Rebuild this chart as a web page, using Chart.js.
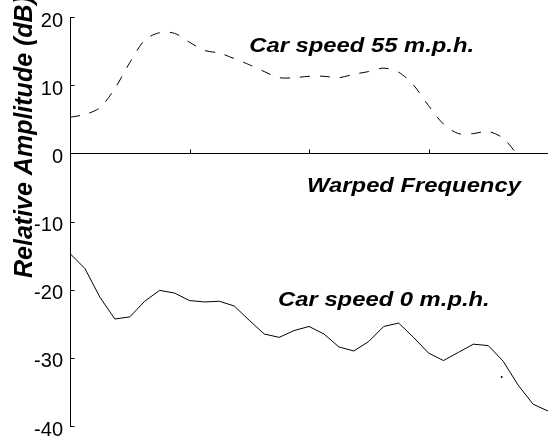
<!DOCTYPE html>
<html>
<head>
<meta charset="utf-8">
<script src="https://cdn.jsdelivr.net/npm/chart.js@4.4.1/dist/chart.umd.min.js"></script>
<style>
  html, body { margin: 0; padding: 0; background: #fff; overflow: hidden; }
  #wrap { width: 552px; height: 436px; }
</style>
</head>
<body>
<div id="wrap"><canvas id="myChart" width="552" height="436"></canvas></div>
<script>
// warped frequency bins (x)
let bins = [0, 1, 2, 3, 4, 5, 6, 7, 8, 9, 10, 11, 12, 13, 14, 15, 16,
  17, 18, 19, 20, 21, 22, 23, 24, 25, 26, 27, 28, 29, 30, 31, 32];

// relative amplitude in dB
let speed55 = [5.3, 5.7, 6.7, 9.5, 13.3, 16.6, 17.7, 17.6, 16.3, 15.1, 14.7,
  13.9, 13.0, 12.0, 11.1, 11.1, 11.3, 11.3, 11.1, 11.6, 12.0, 12.5, 11.9,
  10.0, 7.0, 4.3, 2.9, 2.9, 3.2, 2.2, -0.3];
let speed0 = [-14.7, -16.9, -21.1, -24.3, -24.0, -21.7, -20.1, -20.5, -21.6,
  -21.8, -21.7, -22.4, -24.5, -26.5, -27.0, -26.0, -25.4, -26.5, -28.4, -29.0,
  -27.6, -25.4, -24.9, -27.0, -29.3, -30.4, -29.2, -28.0, -28.2, -30.5, -34.0,
  -36.8, -37.8];

// the lone stray dot under the solid curve
let strayX = [28.9];
let strayY = [-32.8];

let yTicks = [20, 10, 0, -10, -20, -30, -40];
let xTicks = [8, 16, 24];

let labels = [
  { text: "Car speed 55 m.p.h.", x: 12.0, y: 14.8 },
  { text: "Warped Frequency", x: 15.87, y: -5.7 },
  { text: "Car speed 0 m.p.h.", x: 13.93, y: -22.4 },
];

function toPoints(xs, ys) {
  return ys.map((v, i) => ({ x: xs[i], y: v }));
}

// inward tick marks, text labels and the y title
const decorations = {
  id: "decorations",
  afterDraw(chart) {
    const ctx = chart.ctx;
    const xs = chart.scales.x;
    const ys = chart.scales.y;
    const zero = Math.round(ys.getPixelForValue(0)) + 0.5;
    ctx.save();
    ctx.strokeStyle = "#000";
    ctx.lineWidth = 1;
    ctx.beginPath();
    yTicks.forEach((t) => {
      let py = Math.round(ys.getPixelForValue(t)) + 0.5;
      let px = Math.round(xs.left) + 0.5;
      ctx.moveTo(px, py);
      ctx.lineTo(px + 4, py);
    });
    xTicks.forEach((t) => {
      let px = Math.round(xs.getPixelForValue(t)) + 0.5;
      ctx.moveTo(px, zero);
      ctx.lineTo(px, zero - 4);
    });
    ctx.stroke();

    ctx.fillStyle = "#000";
    ctx.font = "bold italic 20px 'Liberation Sans', Arial, sans-serif";
    ctx.textAlign = "left";
    ctx.textBaseline = "alphabetic";
    labels.forEach((l) => {
      ctx.save();
      ctx.translate(xs.getPixelForValue(l.x), ys.getPixelForValue(l.y));
      ctx.scale(1.19, 1);
      ctx.fillText(l.text, 0, 0);
      ctx.restore();
    });

    // y axis title
    ctx.save();
    ctx.translate(32, 137);
    ctx.rotate(-Math.PI / 2);
    ctx.font = "bold italic 25px 'Liberation Sans', Arial, sans-serif";
    ctx.textAlign = "center";
    ctx.fillText("Relative Amplitude (dB)", 0, 0);
    ctx.restore();
    ctx.restore();
  },
};

const ctx = document.getElementById("myChart").getContext("2d");
const myChart = new Chart(ctx, {
  type: "line",
  data: {
    datasets: [
      {
        label: "Car speed 55 m.p.h.",
        data: toPoints(bins, speed55),
        borderColor: "#000",
        borderWidth: 1,
        borderDash: [10, 10],
        pointRadius: 0,
        tension: 0.3,
        fill: false,
      },
      {
        label: "Car speed 0 m.p.h.",
        data: toPoints(bins, speed0),
        borderColor: "#000",
        borderWidth: 1,
        pointRadius: 0,
        tension: 0,
        fill: false,
      },
      {
        label: "stray",
        data: toPoints(strayX, strayY),
        showLine: false,
        pointRadius: 1,
        pointBackgroundColor: "#000",
        pointBorderWidth: 0,
      },
    ],
  },
  options: {
    responsive: false,
    animation: false,
    layout: { padding: { left: 0, top: 17, right: 2, bottom: 10 } },
    plugins: {
      legend: { display: false },
      tooltip: { enabled: false },
    },
    scales: {
      x: {
        type: "linear",
        min: 0,
        max: 32,
        position: { y: 0 },
        afterFit(scale) {
          scale.height = 0;
          scale.paddingLeft = 0;
          scale.paddingRight = 0;
        },
        grid: { display: false, drawTicks: false },
        border: { display: true, color: "#000", width: 1 },
        ticks: { display: false },
      },
      y: {
        type: "linear",
        min: -40,
        max: 20,
        afterFit(scale) {
          scale.width = 70;
          scale.paddingTop = 0;
          scale.paddingBottom = 0;
        },
        afterBuildTicks(scale) {
          scale.ticks = yTicks.map((v) => ({ value: v }));
        },
        grid: { display: false, drawTicks: false },
        border: { display: true, color: "#000", width: 1 },
        ticks: {
          color: "#000",
          padding: 7,
          labelOffset: 4,
          font: { family: "'Liberation Sans', Arial, sans-serif", size: 20 },
        },
      },
    },
  },
  plugins: [decorations],
});
</script>
</body>
</html>
